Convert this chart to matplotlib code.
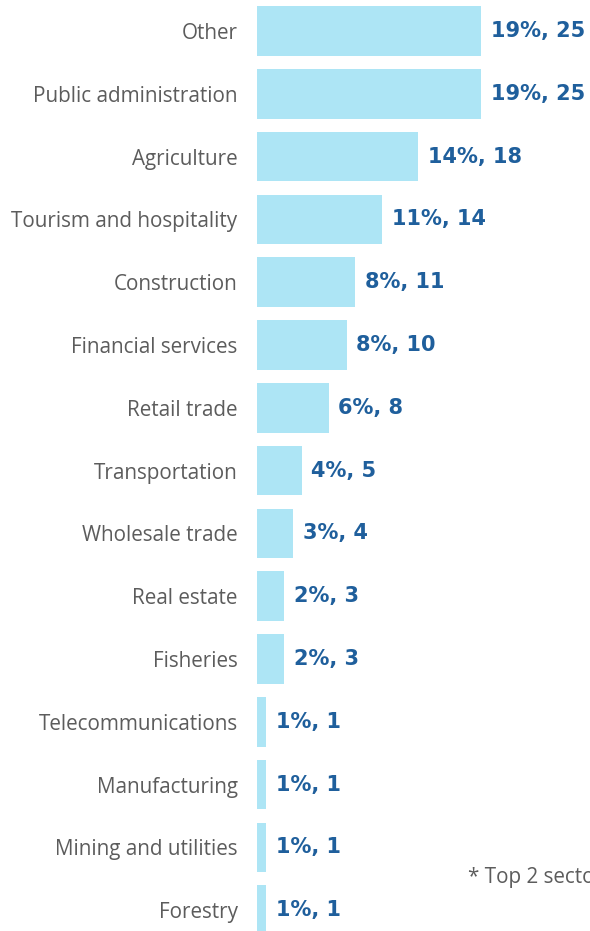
import matplotlib.pyplot as plt

#------------------------------------------------------------------------------
# Data
#------------------------------------------------------------------------------
sectors = ['Other', 'Public administration', 'Agriculture', 'Tourism and hospitality',
           'Construction', 'Financial services', 'Retail trade', 'Transportation',
           'Wholesale trade', 'Real estate', 'Fisheries', 'Telecommunications',
           'Manufacturing', 'Mining and utilities', 'Forestry']
counts = [25, 25, 18, 14, 11, 10, 8, 5, 4, 3, 3, 1, 1, 1, 1]
shares = [19, 19, 14, 11, 8, 8, 6, 4, 3, 2, 2, 1, 1, 1, 1]
note = '* Top 2 sectors'

#------------------------------------------------------------------------------
# Plot
#------------------------------------------------------------------------------
fig = plt.figure(figsize=(5.9, 9.31), dpi=100)
ax = fig.add_axes([257/590, 0, 1 - 257/590, 1])

ypos = list(range(len(sectors)))
ax.barh(ypos, counts, height=0.79, color='#ade5f5')

for y, c, s in zip(ypos, counts, shares):
    ax.annotate(f'{s}%, {c}', (c, y), xytext=(7, 0), textcoords='offset points',
                ha='left', va='center', fontsize=15, fontweight='bold',
                color='#1f5f9c', family='DejaVu Sans')

ax.set_xlim(0, 37.2)
ax.set_ylim(14.33, -0.494)
ax.set_yticks(ypos)
ax.set_yticklabels(sectors, fontsize=14.9, color='#5c5c5c', family='Open Sans')
ax.tick_params(axis='y', length=0, pad=14)
ax.set_xticks([])
for sp in ax.spines.values():
    sp.set_visible(False)

fig.text(468/590, 1 - 877/931, note, fontsize=14.9, color='#5c5c5c',
         family='Open Sans', ha='left', va='center')

fig.savefig('out.png', dpi=100)
